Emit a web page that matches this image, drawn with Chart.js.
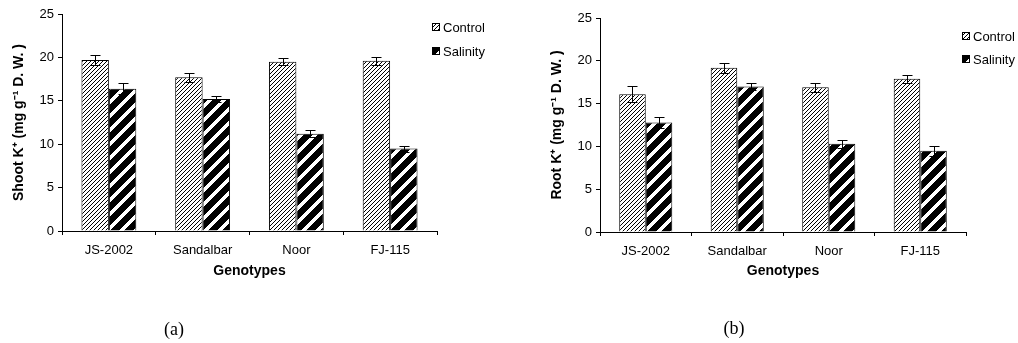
<!DOCTYPE html>
<html lang="en">
<head>
<meta charset="UTF-8">
<title>Shoot and root K+ of genotypes</title>
<script src="https://cdn.jsdelivr.net/npm/chart.js"></script>
<style>
  body { margin: 0; background: #fff; width: 1018px; height: 343px; position: relative; overflow: hidden; }
  canvas { position: absolute; top: 0; }
  #shootChart { left: 0; }
  #rootChart { left: 538px; }
  .cap { position: absolute; font-family: 'Liberation Serif', 'Times New Roman', serif; font-size: 18px; transform: translateX(-50%); }
</style>
</head>
<body>
<canvas id="shootChart" width="500" height="343"></canvas>
<canvas id="rootChart" width="480" height="343"></canvas>
<div class="cap" style="left:174px; top:319px">(a)</div>
<div class="cap" style="left:734px; top:318px">(b)</div>

<script>
  const genotypes = ['JS-2002', 'Sandalbar', 'Noor', 'FJ-115'];
  const seriesNames = ['Control', 'Salinity'];

  // shoot K+ (a)
  const shootControl = [19.7, 17.7, 19.5, 19.6];
  const shootControlErr = [0.6, 0.5, 0.4, 0.5];
  const shootSalinity = [16.4, 15.2, 11.2, 9.5];
  const shootSalinityErr = [0.6, 0.3, 0.4, 0.35];

  // root K+ (b)
  const rootControl = [16.1, 19.2, 16.9, 17.9];
  const rootControlErr = [0.9, 0.6, 0.55, 0.45];
  const rootSalinity = [12.8, 17.0, 10.3, 9.5];
  const rootSalinityErr = [0.65, 0.4, 0.5, 0.6];

  const yMin = 0, yMax = 25, yStep = 5;

  Chart.defaults.font.family = "'Liberation Sans', Arial, sans-serif";
  Chart.defaults.color = '#000';

  // hatch fills, drawn pixel by pixel so the lines stay crisp
  function hatch(size, bg, fg, width) {
    const c = document.createElement('canvas');
    c.width = c.height = size;
    const g = c.getContext('2d');
    g.fillStyle = bg;
    g.fillRect(0, 0, size, size);
    g.fillStyle = fg;
    for (let y = 0; y < size; y++) {
      for (let w = 0; w < width; w++) {
        const x = ((size - 1 - y + w) % size + size) % size;
        g.fillRect(x, y, 1, 1);
      }
    }
    return g.createPattern(c, 'repeat');
  }
  const controlFill = hatch(4, '#fff', '#000', 1);
  const salinityFill = hatch(14, '#000', '#fff', 5);

  // error bars on top of every bar
  const errorBars = {
    id: 'errorBars',
    afterDatasetsDraw(chart) {
      const ctx = chart.ctx, ys = chart.scales.y;
      ctx.save();
      ctx.strokeStyle = '#000';
      ctx.lineWidth = 1;
      chart.data.datasets.forEach((ds, i) => {
        chart.getDatasetMeta(i).data.forEach((bar, j) => {
          const x = Math.round(bar.x) + 0.5;
          const hi = Math.round(ys.getPixelForValue(ds.data[j] + ds.errors[j])) + 0.5;
          const lo = Math.round(ys.getPixelForValue(ds.data[j] - ds.errors[j])) + 0.5;
          ctx.beginPath();
          ctx.moveTo(x, hi); ctx.lineTo(x, lo);
          ctx.moveTo(x - 5, hi); ctx.lineTo(x + 5, hi);
          ctx.moveTo(x - 5, lo); ctx.lineTo(x + 5, lo);
          ctx.stroke();
        });
      });
      ctx.restore();
    }
  };

  // small legend in the upper right corner
  const sideLegend = {
    id: 'sideLegend',
    afterDraw(chart, args, opts) {
      const ctx = chart.ctx;
      ctx.save();
      ctx.font = "13px 'Liberation Sans', Arial, sans-serif";
      ctx.textBaseline = 'middle';
      chart.data.datasets.forEach((ds, i) => {
        const cy = opts.y + i * opts.gap;
        ctx.fillStyle = ds.backgroundColor;
        ctx.fillRect(opts.x, cy - 4, 8, 8);
        ctx.strokeStyle = '#000';
        ctx.lineWidth = 1;
        ctx.strokeRect(opts.x + 0.5, cy - 3.5, 7, 7);
        ctx.fillStyle = '#000';
        ctx.fillText(ds.label, opts.x + 11, cy + 1);
      });
      ctx.restore();
    }
  };

  function makeChart(id, ctrl, ctrlErr, sal, salErr, yTitle, lay) {
    return new Chart(document.getElementById(id), {
      type: 'bar',
      data: {
        labels: genotypes,
        datasets: [
          { label: seriesNames[0], data: ctrl, errors: ctrlErr, backgroundColor: controlFill,
            borderColor: '#000', borderWidth: 1 },
          { label: seriesNames[1], data: sal, errors: salErr, backgroundColor: salinityFill,
            borderColor: '#000', borderWidth: 1 }
        ]
      },
      options: {
        responsive: false,
        animation: false,
        layout: { padding: { top: lay.top, right: lay.right, left: 0, bottom: 0 } },
        datasets: { bar: { categoryPercentage: lay.cat, barPercentage: 1 } },
        plugins: {
          legend: { display: false },
          tooltip: { enabled: false },
          sideLegend: lay.legend
        },
        scales: {
          x: {
            grid: { drawOnChartArea: false, tickLength: 4, color: '#000' },
            border: { color: '#000' },
            ticks: { font: { size: 13 }, padding: 8, maxRotation: 0 },
            title: { display: true, text: 'Genotypes', font: { size: 14, weight: 'bold' },
                     padding: { top: 0, bottom: 63 } },
            afterFit(s) { s.height = lay.xh; }
          },
          y: {
            min: yMin, max: yMax,
            grid: { drawOnChartArea: false, tickLength: 4, color: '#000' },
            border: { color: '#000' },
            ticks: { stepSize: yStep, font: { size: 13 }, padding: 4 },
            title: { display: true, text: yTitle, font: { size: 14, weight: 'bold' },
                     padding: { top: 11, bottom: 0 } },
            afterFit(s) { s.width = 62; }
          }
        }
      },
      plugins: [errorBars, sideLegend]
    });
  }

  makeChart('shootChart', shootControl, shootControlErr, shootSalinity, shootSalinityErr,
    'Shoot K⁺ (mg g⁻¹ D. W. )',
    { top: 14, right: 63, xh: 112, cat: 0.585, legend: { x: 432, y: 27, gap: 24 } });

  makeChart('rootChart', rootControl, rootControlErr, rootSalinity, rootSalinityErr,
    'Root K⁺ (mg g⁻¹ D. W. )',
    { top: 18, right: 52, xh: 111, cat: 0.58, legend: { x: 424, y: 36, gap: 23 } });
</script>
</body>
</html>
